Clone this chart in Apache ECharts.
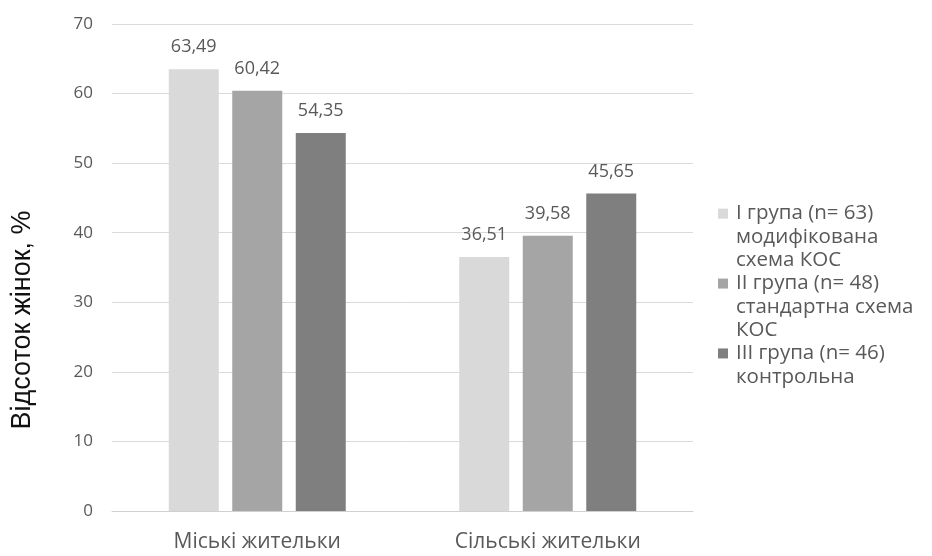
<!DOCTYPE html>
<html>
<head>
<meta charset="utf-8">
<script src="https://cdn.jsdelivr.net/npm/echarts@6/dist/echarts.min.js"></script>
<style>
  html, body { margin: 0; padding: 0; background: #fff; }
  #chart { width: 932px; height: 556px; }
</style>
</head>
<body>
<div id="chart"></div>
<script>
// Residence categories
var categories = ['Міські жительки', 'Сільські жительки'];

// Group names (legend, one entry per line break) and their values, %
var seriesNames = [
  'I група (n= 63)\nмодифікована\nсхема КОС',
  'II група (n= 48)\nстандартна схема\nКОС',
  'III група (n= 46)\nконтрольна'
];
var group1 = [63.49, 36.51];
var group2 = [60.42, 39.58];
var group3 = [54.35, 45.65];

var seriesColors = ['#d9d9d9', '#a5a5a5', '#7f7f7f'];
var yTitle = 'Відсоток жінок, %';

var FONT = '"Open Sans"';
var LINE_H = 23.3;

var chart = echarts.init(document.getElementById('chart'));

function fmt(p) {
  return p.value.toFixed(2).replace('.', ',');
}

// Legend entry: colour square on the first line, continuation lines indented
function legendText(name) {
  var idx = seriesNames.indexOf(name);
  var lines = name.split('\n');
  return lines.map(function (line, i) {
    return (i === 0 ? '{sq' + idx + '|}{gap|}' : '{ind|}') + '{t|' + line + '}';
  }).join('\n');
}

var legendRich = {
  t: { fontFamily: FONT, fontSize: 20.5, color: '#595959', lineHeight: LINE_H },
  gap: { width: 8, height: 10, lineHeight: LINE_H },
  ind: { width: 18, height: 10, lineHeight: LINE_H }
};
seriesColors.forEach(function (c, i) {
  legendRich['sq' + i] = { width: 10, height: 10, backgroundColor: c, lineHeight: LINE_H };
});

function makeSeries(name, data, color) {
  return {
    name: name,
    type: 'bar',
    data: data,
    barWidth: 50,
    barGap: '27%',
    itemStyle: { color: color },
    label: {
      show: true,
      position: 'top',
      distance: 13,
      formatter: fmt,
      fontFamily: FONT,
      fontSize: 18,
      color: '#595959'
    }
  };
}

chart.setOption({
  backgroundColor: '#ffffff',
  animation: false,
  grid: { left: 112, right: 239, top: 24, bottom: 45 },
  xAxis: {
    type: 'category',
    data: categories,
    axisTick: { show: false },
    axisLine: { lineStyle: { color: '#d0d0d0', width: 1 } },
    axisLabel: {
      fontFamily: FONT,
      fontSize: 21,
      color: '#595959',
      margin: 21
    }
  },
  yAxis: {
    type: 'value',
    min: 0,
    max: 70,
    interval: 10,
    axisLine: { show: false },
    axisTick: { show: false },
    splitLine: { lineStyle: { color: '#dadada', width: 1 } },
    axisLabel: {
      fontFamily: FONT,
      fontSize: 17,
      color: '#595959',
      margin: 19
    }
  },
  legend: {
    orient: 'vertical',
    left: 708,
    top: 197,
    icon: 'none',
    itemWidth: 0,
    itemHeight: 10,
    itemGap: 0,
    data: seriesNames,
    formatter: legendText,
    textStyle: {
      fontFamily: FONT,
      fontSize: 20.5,
      color: '#595959',
      lineHeight: LINE_H,
      rich: legendRich
    }
  },
  graphic: [{
    type: 'text',
    x: 23,
    y: 320,
    rotation: Math.PI / 2,
    style: {
      text: yTitle,
      font: '27px "Liberation Sans"',
      fill: '#111111',
      align: 'center',
      verticalAlign: 'middle'
    }
  }],
  series: [
    makeSeries(seriesNames[0], group1, seriesColors[0]),
    makeSeries(seriesNames[1], group2, seriesColors[1]),
    makeSeries(seriesNames[2], group3, seriesColors[2])
  ]
});
</script>
</body>
</html>
